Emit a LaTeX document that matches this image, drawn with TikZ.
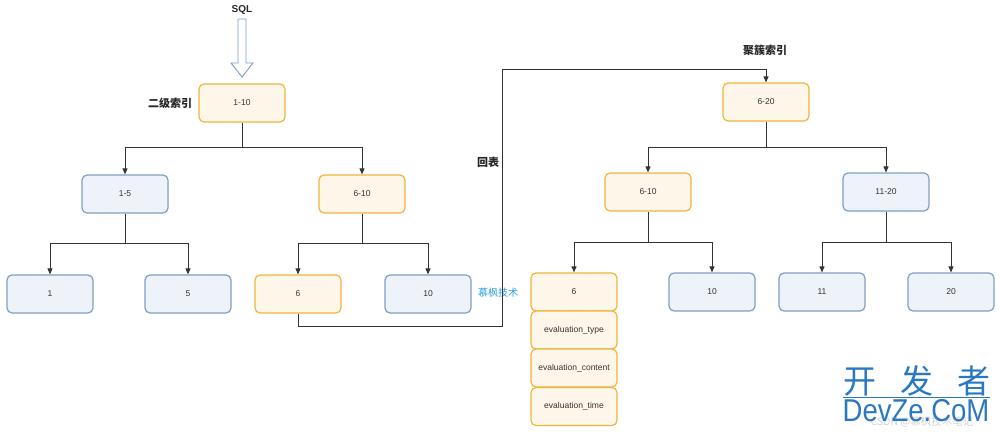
\documentclass[tikz,border=0pt]{standalone}
\usepackage{fontspec}
\setmainfont{Liberation Sans}
\newfontfamily\cjk{Noto Sans CJK SC}
\usetikzlibrary{arrows.meta,patterns}
\definecolor{obd}{HTML}{F0B43C}
\definecolor{ofl}{HTML}{FFF9EE}
\definecolor{bbd}{HTML}{809EC4}
\definecolor{bfl}{HTML}{F0F5FC}
\definecolor{ln}{HTML}{333333}
\definecolor{wm}{HTML}{2B78C2}
\definecolor{mf}{HTML}{2CA0DC}
\definecolor{sqlb}{HTML}{7E9CC8}
\tikzset{
  box/.style={rounded corners=5pt, minimum width=86pt, minimum height=38pt, inner sep=0pt,
    line width=1.2pt, font=\fontsize{8.5}{9}\selectfont, text=ln},
  obox/.style={box, draw=obd, preaction={fill=ofl}, preaction={pattern=north east lines, pattern color=obd!14}},
  bbox/.style={box, draw=bbd, preaction={fill=bfl}, preaction={pattern=north east lines, pattern color=bbd!14}},
  arr/.style={draw=ln, line width=0.8pt, -{Triangle[length=6pt,width=5pt]}},
  conn/.style={draw=ln, line width=0.8pt},
  lab/.style={font=\cjk\bfseries\fontsize{11}{12}\selectfont, text=black!85, inner sep=0pt}
}
\begin{document}
\begin{tikzpicture}[x=1pt,y=-1pt]
\useasboundingbox (0,0) rectangle (1000,431);
% SQL arrow
\node[font=\bfseries\fontsize{10}{11}\selectfont, text=black!85, inner sep=0pt] (sql) at (242,10) {SQL};
\draw[draw=sqlb, fill=white, line width=0.9pt, line join=miter]
  (238,19) -- (246,19) -- (246,63) -- (253,63) -- (242,77) -- (231,63) -- (238,63) -- cycle;
% secondary index
\node[lab] (l2) at (170,103) {二级索引};
\node[obox] (a110) at (242,103) {1-10};
\node[bbox] (a15) at (125,194) {1-5};
\node[obox] (a610) at (362,194) {6-10};
\node[bbox] (a1) at (50,294) {1};
\node[bbox] (a5) at (188,294) {5};
\node[obox] (a6) at (298,294) {6};
\node[bbox] (a10) at (428,294) {10};
\node[font=\cjk\fontsize{10}{11}\selectfont, text=mf, inner sep=0pt] (mft) at (498,293) {慕枫技术};
\coordinate (j1) at (242,147);
\coordinate (j2) at (125,243);
\coordinate (j3) at (362,243);
\draw[conn] (a110.south) -- (j1);
\draw[arr] (j1) -| (a15.north);
\draw[arr] (j1) -| (a610.north);
\draw[conn] (a15.south) -- (j2);
\draw[arr] (j2) -| (a1.north);
\draw[arr] (j2) -| (a5.north);
\draw[conn] (a610.south) -- (j3);
\draw[arr] (j3) -| (a6.north);
\draw[arr] (j3) -| (a10.north);
% back to table
\coordinate (r1) at (502,326);
\coordinate (r2) at (502,69);
\node[lab] (hb) at (488,162) {回表};
\node[lab] (lc) at (765,50) {聚簇索引};
\node[obox] (c620) at (766,102) {6-20};
\draw[arr] (a6.south) |- (r1) -- (r2) -| (c620.north);
\node[obox] (c610) at (648,192) {6-10};
\node[bbox] (c1120) at (886,192) {11-20};
\node[obox] (c6) at (574,292) {6};
\node[obox] (e1) at (574,330) {evaluation\_type};
\node[obox] (e2) at (574,368) {evaluation\_content};
\node[obox] (e3) at (574,406.5) {evaluation\_time};
\node[bbox] (c10) at (712,292) {10};
\node[bbox] (c11) at (822,292) {11};
\node[bbox] (c20) at (951,292) {20};
\coordinate (k1) at (766,147);
\coordinate (k2) at (648,242);
\coordinate (k3) at (886,242);
\draw[conn] (c620.south) -- (k1);
\draw[arr] (k1) -| (c610.north);
\draw[arr] (k1) -| (c1120.north);
\draw[conn] (c610.south) -- (k2);
\draw[arr] (k2) -| (c6.north);
\draw[arr] (k2) -| (c10.north);
\draw[conn] (c1120.south) -- (k3);
\draw[arr] (k3) -| (c11.north);
\draw[arr] (k3) -| (c20.north);
% watermark
\node[font=\cjk\fontsize{10.5}{11}\selectfont, text=gray!35, inner sep=0pt] (csdn) at (922,422) {CSDN @慕枫技术笔记};
\node[font=\cjk\fontsize{33}{34}\selectfont, text=wm, inner sep=0pt] (wm1) at (917,381) {开\hspace{24pt}发\hspace{24pt}者};
\draw[draw=wm, line width=0.7pt] (843,397.5) -- (990,397.5);
\node[font=\fontsize{27.5}{30}\selectfont, text=wm, inner sep=0pt, yscale=1.15] (wm2) at (916,411) {DevZe.CoM};
\end{tikzpicture}
\end{document}
